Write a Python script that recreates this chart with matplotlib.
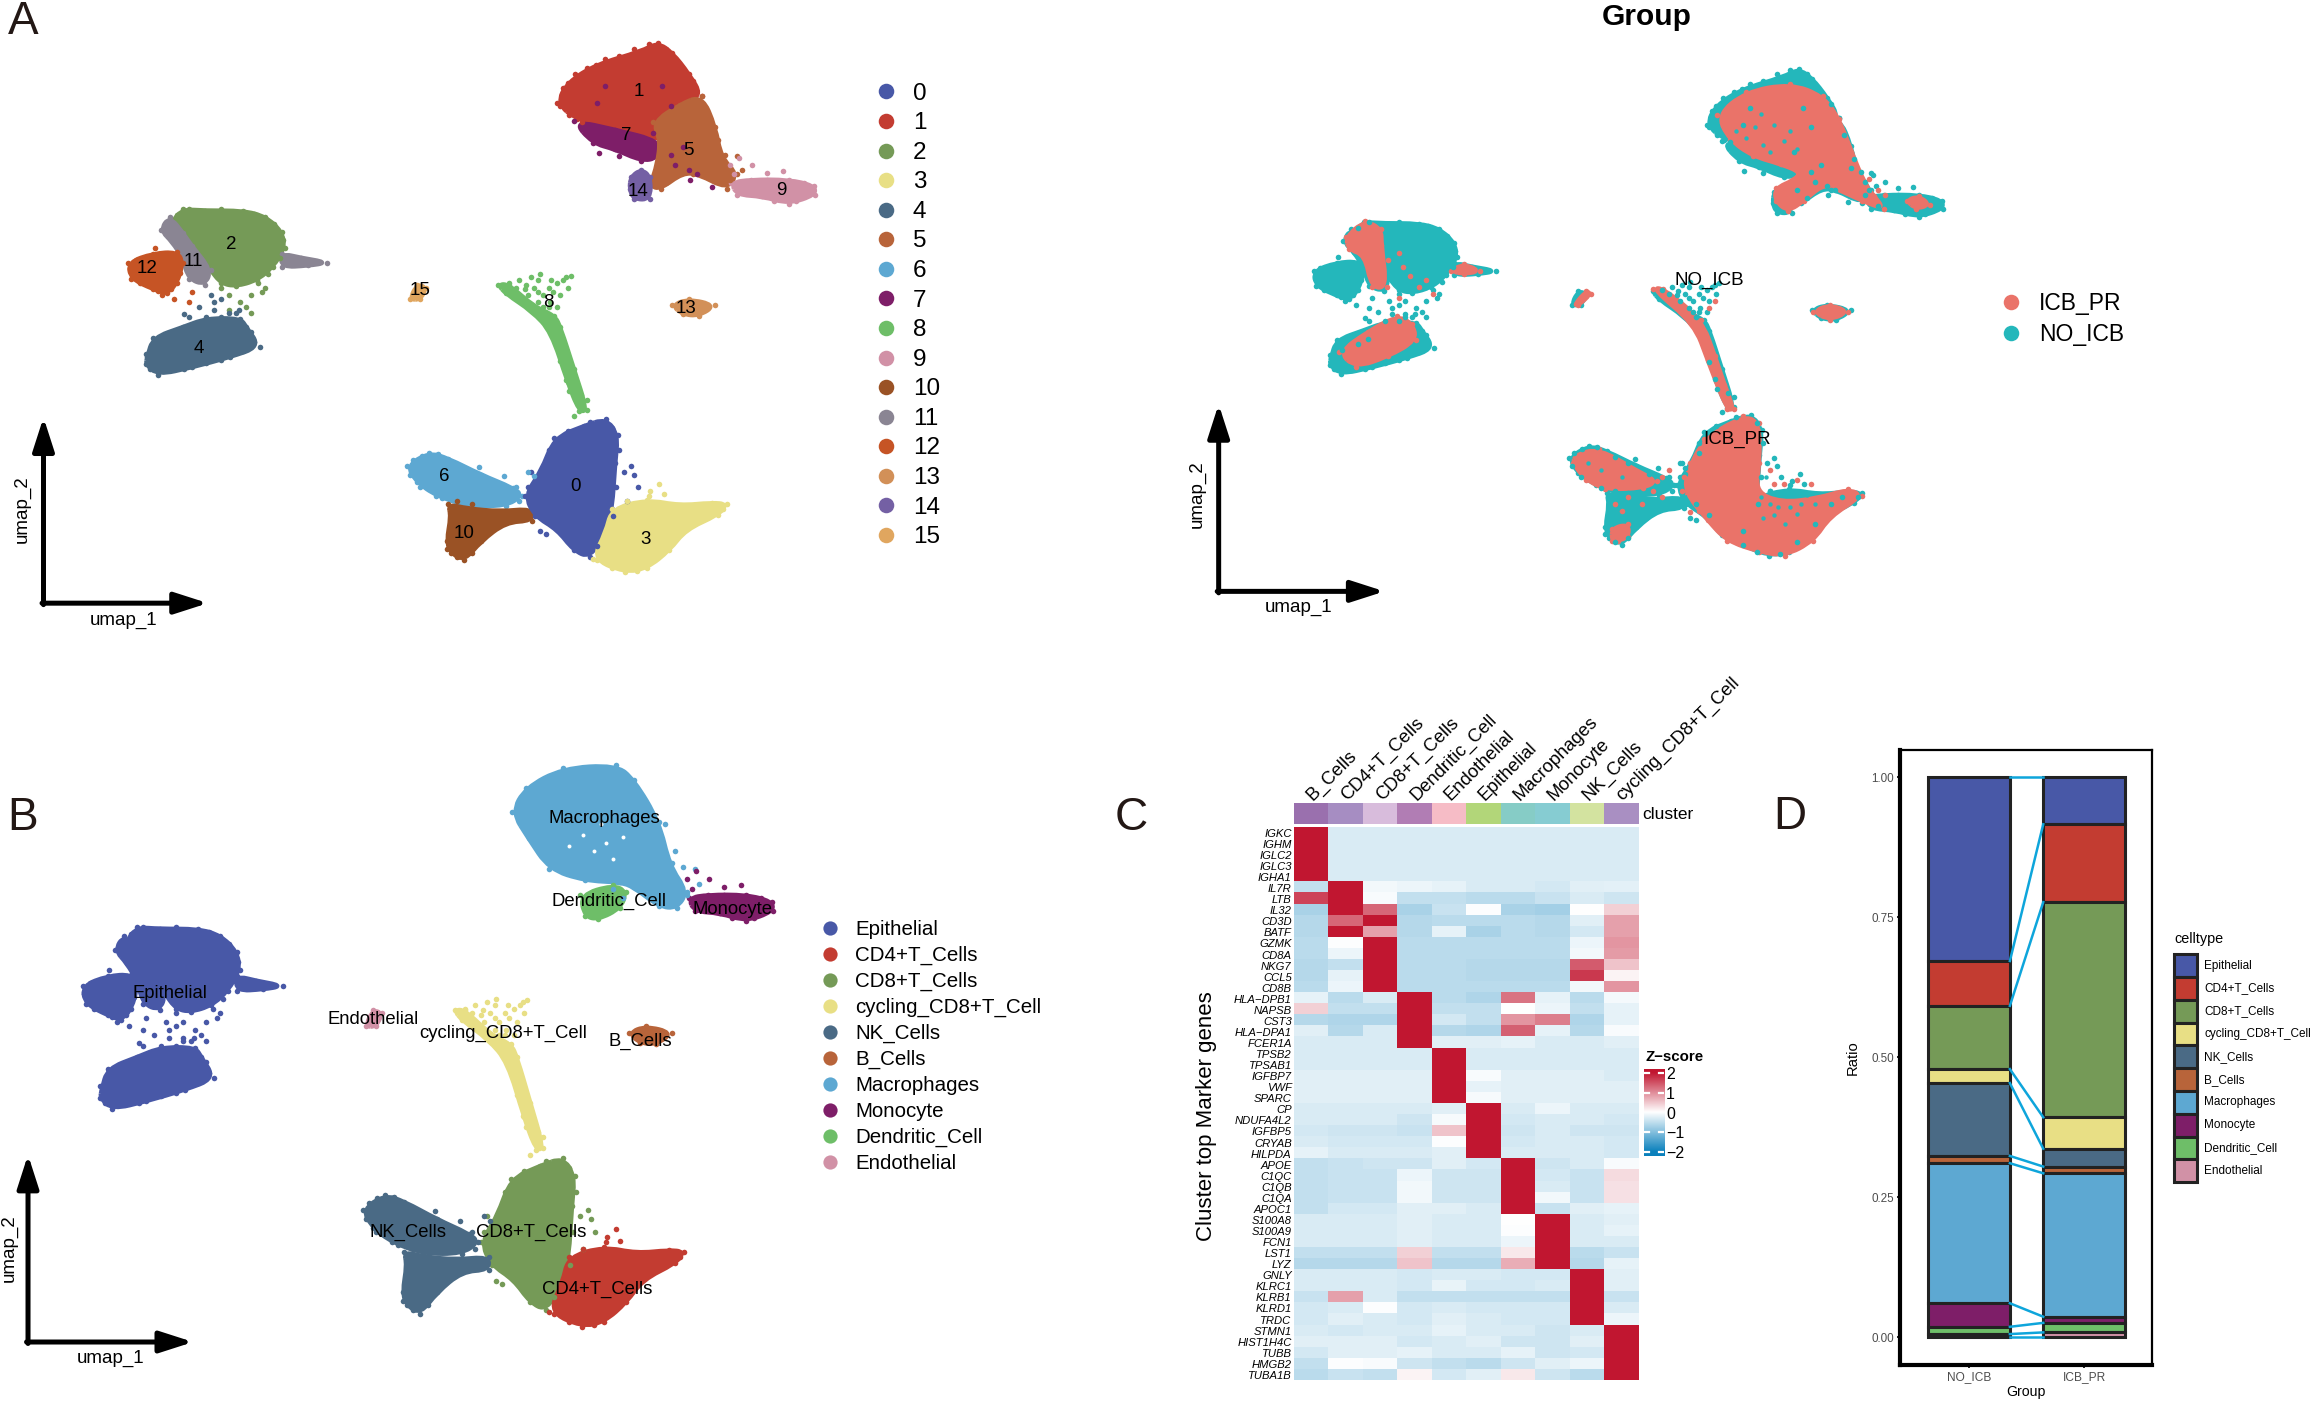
import matplotlib
matplotlib.use('Agg')
import matplotlib.pyplot as plt
from matplotlib.colors import LinearSegmentedColormap, ListedColormap
from matplotlib.patches import Rectangle, PathPatch
from matplotlib.path import Path
import numpy as np

plt.rcParams['font.family'] = ['Liberation Sans', 'DejaVu Sans']

FIG_W, FIG_H = 1568, 950  # layout units, the shrunk reference

# ---- embedding, outlines of the clusters ----
cluster_outlines = {
    0: [(411, 284), (419, 295), (417, 314), (415, 345), (411, 361), (400, 378), (389, 373), (378, 359), (363, 350), (356, 336), (367, 320), (376, 297), (396, 289)],
    1: [(378, 70), (385, 56), (404, 44), (435, 35), (446, 29), (456, 36), (467, 50), (476, 65), (461, 70), (443, 81), (448, 95), (435, 92), (417, 86), (391, 81)],
    2: [(117, 150), (124, 142), (139, 143), (165, 143), (180, 147), (191, 157), (193, 168), (185, 181), (174, 190), (160, 194), (150, 192), (143, 183), (130, 167), (117, 156)],
    3: [(415, 345), (439, 339), (461, 343), (483, 341), (493, 342), (487, 349), (465, 359), (454, 373), (439, 385), (424, 388), (402, 379), (411, 361)],
    4: [(100, 242), (104, 229), (124, 222), (140, 216), (163, 216), (167, 222), (176, 235), (156, 242), (130, 249), (107, 254), (99, 247)],
    5: [(476, 65), (485, 86), (489, 107), (500, 118), (493, 128), (474, 118), (463, 117), (448, 128), (441, 126), (446, 111), (448, 95), (443, 83), (461, 71)],
    6: [(276, 316), (291, 307), (304, 311), (326, 322), (348, 331), (354, 336), (343, 343), (317, 343), (296, 336), (283, 327)],
    7: [(389, 82), (417, 88), (448, 96), (446, 107), (435, 109), (417, 101), (402, 97)],
    8: [(338, 193), (345, 193), (362, 208), (376, 214), (380, 222), (389, 250), (398, 278), (393, 279), (385, 259), (374, 225), (361, 211), (343, 199)],
    9: [(496, 124), (509, 122), (535, 122), (552, 126), (553, 132), (535, 138), (517, 133), (500, 132)],
    10: [(304, 342), (317, 345), (339, 347), (361, 345), (361, 353), (343, 354), (326, 367), (315, 380), (306, 375), (303, 367), (306, 350)],
    11: [(109, 156), (115, 147), (124, 158), (130, 167), (143, 183), (139, 193), (128, 189), (124, 175), (117, 164)],
    12: [(87, 178), (104, 172), (120, 171), (124, 178), (120, 192), (113, 199), (104, 196), (89, 189)],
    13: [(456, 207), (467, 203), (485, 207), (474, 214), (463, 213)],
    14: [(428, 120), (435, 115), (441, 120), (441, 135), (430, 135), (427, 128)],
    15: [(278, 203), (283, 193), (289, 195), (285, 203)],
}
cluster_11_tail = [(191, 172), (204, 175), (222, 178), (209, 180), (191, 181)]

cluster_strays = {
    0: [(423, 320), (428, 316), (433, 330), (425, 340), (430, 322), (366, 360), (370, 362), (358, 330), (360, 320), (372, 312),
        (415, 290), (420, 305), (418, 330), (416, 350), (405, 370), (380, 358), (370, 350), (360, 342), (362, 328), (372, 305), (385, 292), (400, 286)],
    1: [(382, 60), (390, 50), (398, 46), (410, 40), (420, 38), (430, 33), (440, 30), (452, 33), (460, 42), (470, 55), (380, 72), (386, 78), (395, 83)],
    2: [(170, 212), (178, 198), (180, 195), (155, 210), (150, 195), (155, 200), (163, 205), (167, 208), (170, 200), (175, 192),
        (120, 146), (128, 142), (150, 142), (172, 145), (186, 152), (192, 163), (190, 175), (182, 186)],
    3: [(441, 333), (447, 328), (450, 335), (425, 340), (440, 336), (470, 350), (478, 345), (490, 345), (445, 378), (432, 387), (415, 385), (405, 380), (458, 365)],
    4: [(145, 210), (140, 215), (125, 213), (127, 228), (120, 232), (143, 200), (160, 212), (108, 236), (135, 208), (145, 205), (150, 203), (155, 212),
        (128, 215), (150, 215), (162, 210), (99, 240), (102, 250), (115, 251), (125, 250), (140, 246), (150, 244), (165, 238), (172, 232), (170, 225)],
    5: [(492, 105), (500, 106), (503, 115), (485, 102), (480, 78), (487, 95), (495, 122), (470, 118), (452, 124), (445, 118)],
    6: [(325, 317), (342, 323), (350, 330), (358, 320), (362, 323), (352, 340), (347, 337), (280, 312), (286, 309), (297, 308), (310, 315), (320, 320), (335, 328), (300, 338), (285, 330), (278, 322)],
    7: [(405, 70), (410, 58), (449, 58), (455, 72), (443, 90), (455, 105), (463, 100), (458, 112), (467, 115), (468, 122), (473, 118), (483, 127), (406, 104), (420, 106)],
    8: [(350, 195), (360, 188), (365, 190), (372, 195), (368, 200), (378, 192), (382, 190), (380, 200), (373, 205), (365, 205), (370, 212), (384, 258), (380, 245), (386, 265), (394, 268), (398, 271), (389, 282),
        (345, 192), (352, 190), (356, 196), (358, 200), (362, 195), (366, 186), (375, 198), (384, 188), (387, 187), (385, 195), (378, 208), (372, 208), (368, 208), (365, 198), (357, 193), (374, 190)],
    9: [(498, 118), (510, 112), (520, 117), (531, 116), (501, 107), (495, 112), (505, 130), (525, 136), (540, 136), (548, 130), (545, 124), (520, 122)],
    10: [(310, 340), (320, 342), (305, 358), (303, 372), (310, 378), (320, 375), (333, 360), (350, 352)],
    12: [(105, 168), (110, 200), (128, 205), (118, 203), (130, 198), (92, 176), (88, 183), (95, 192), (107, 197), (116, 196), (122, 185)],
}

cluster_colors = ['#4858A7', '#C33C31', '#759A57', '#E8DF85', '#4A6A85', '#B8643A', '#5DA8D2', '#7E1E68',
                  '#6EBE68', '#D191A6', '#9A5225', '#8A8593', '#C65425', '#D29058', '#7460A4', '#E0A65F']
cluster_ids = [str(i) for i in range(16)]
cluster_label_pos = [(390, 330), (433, 62), (157, 166), (438, 366), (135, 236), (467, 102), (301, 323), (425, 92),
                     (372, 205), (530, 129), (315, 362), (131, 177), (100, 182), (465, 209), (433, 130), (285, 197)]

# ---- panel B ----
celltypes = ['Epithelial', 'CD4+T_Cells', 'CD8+T_Cells', 'cycling_CD8+T_Cell', 'NK_Cells', 'B_Cells',
             'Macrophages', 'Monocyte', 'Dendritic_Cell', 'Endothelial']
celltype_colors = ['#4858A7', '#C33C31', '#759A57', '#E8DF85', '#4A6A85', '#B8643A', '#5DA8D2', '#7E1E68', '#6EBE68', '#D191A6']
cluster_to_celltype = {0: 2, 1: 6, 2: 0, 3: 1, 4: 0, 5: 6, 6: 4, 7: 6, 8: 3, 9: 7, 10: 4, 11: 0, 12: 0, 13: 5, 14: 8, 15: 9}
macrophage_outline = [(377, 71), (386, 56), (411, 44), (447, 42), (459, 51), (476, 77), (483, 104), (495, 120), (488, 130),
                      (476, 129), (459, 117), (450, 114), (426, 113), (402, 106), (388, 87)]
dendritic_outline = [(423, 122), (445, 116), (454, 120), (450, 130), (435, 137), (426, 135)]
macrophage_holes = [(425, 85), (440, 90), (432, 95), (445, 100), (415, 92), (437, 78), (452, 86)]
celltype_label_pos = [(115, 674), (405, 874), (360, 836), (341, 701), (277, 836), (434, 706), (410, 555), (497, 617), (413, 611), (253, 691)]

# ---- group panel ----
groups = ['ICB_PR', 'NO_ICB']
group_colors = ['#EA7369', '#24B7BB']
icb_regions = [
    [(386, 63), (407, 46), (440, 40), (464, 49), (476, 66), (485, 90), (495, 114), (502, 123), (509, 132), (493, 126), (474, 117), (464, 114), (450, 126), (438, 134), (429, 126), (429, 117), (443, 111), (448, 105), (433, 99), (412, 93), (395, 81)],
    [(526, 126), (535, 123), (543, 129), (533, 132)],
    [(111, 153), (125, 141), (137, 147), (137, 159), (141, 190), (130, 190), (125, 166), (113, 162)],
    [(189, 178), (198, 173), (210, 178), (198, 180)],
    [(106, 238), (127, 223), (149, 211), (160, 217), (163, 229), (142, 241), (118, 249)],
    [(338, 191), (346, 191), (374, 214), (384, 241), (391, 262), (398, 280), (393, 280), (379, 244), (369, 217)],
    [(405, 285), (417, 290), (417, 320), (414, 341), (433, 349), (460, 346), (483, 339), (493, 344), (469, 359), (457, 377), (436, 388), (417, 385), (393, 377), (379, 362), (362, 341), (364, 326), (376, 302)],
    [(281, 314), (298, 309), (327, 326), (341, 333), (331, 338), (303, 339), (289, 332), (279, 320)],
    [(308, 368), (320, 365), (320, 374), (312, 377), (308, 377)],
    [(457, 208), (469, 203), (483, 208), (469, 214)],
    [(281, 202), (289, 193), (292, 195), (283, 203)],
]
teal_points = [(400, 75), (407, 80), (414, 72), (420, 85), (425, 90), (435, 82), (445, 88), (440, 75), (428, 70), (418, 62),
               (418, 345), (425, 350), (431, 352), (420, 360), (428, 358), (440, 352), (445, 357), (448, 350), (436, 365),
               (458, 350), (452, 343), (422, 330), (300, 325), (315, 330), (290, 320)]
pink_points = [(150, 165), (153, 175), (158, 182), (142, 170), (165, 190), (170, 185), (150, 198), (175, 195),
               (320, 345), (310, 350), (315, 355), (312, 370), (330, 350), (345, 330), (350, 325), (361, 330), (366, 320),
               (360, 340), (345, 345), (338, 340), (372, 355), (366, 356), (505, 118), (510, 122), (498, 110),
               (384, 200), (380, 205), (425, 325), (428, 335), (435, 335), (445, 332), (455, 335)]
group_label_pos = [(1178, 298), (1159, 190)]

# ---- panel C ----
heat_columns = ['B_Cells', 'CD4+T_Cells', 'CD8+T_Cells', 'Dendritic_Cell', 'Endothelial', 'Epithelial', 'Macrophages', 'Monocyte', 'NK_Cells', 'cycling_CD8+T_Cell']
heat_annotation = ['#9A70AE', '#A68DC2', '#D8BCDC', '#B17DB4', '#F6BCC6', '#B2D679', '#86CCC6', '#86CCD2', '#D3E3A0', '#A98FC2']
heat_genes = ['IGKC', 'IGHM', 'IGLC2', 'IGLC3', 'IGHA1', 'IL7R', 'LTB', 'IL32', 'CD3D', 'BATF',
              'GZMK', 'CD8A', 'NKG7', 'CCL5', 'CD8B', 'HLA\u2212DPB1', 'NAPSB', 'CST3', 'HLA\u2212DPA1', 'FCER1A',
              'TPSB2', 'TPSAB1', 'IGFBP7', 'VWF', 'SPARC', 'CP', 'NDUFA4L2', 'IGFBP5', 'CRYAB', 'HILPDA',
              'APOE', 'C1QC', 'C1QB', 'C1QA', 'APOC1', 'S100A8', 'S100A9', 'FCN1', 'LST1', 'LYZ',
              'GNLY', 'KLRC1', 'KLRB1', 'KLRD1', 'TRDC', 'STMN1', 'HIST1H4C', 'TUBB', 'HMGB2', 'TUBA1B']
heat_values = [
    [2, -.3, -.3, -.3, -.3, -.3, -.3, -.3, -.3, -.3],
    [2, -.3, -.3, -.3, -.3, -.3, -.3, -.3, -.3, -.3],
    [2, -.3, -.3, -.3, -.3, -.3, -.3, -.3, -.3, -.3],
    [2, -.3, -.3, -.3, -.3, -.3, -.3, -.3, -.3, -.3],
    [2, -.3, -.3, -.3, -.3, -.3, -.3, -.3, -.3, -.3],
    [-.5, 2, -.1, -.15, -.2, -.3, -.3, -.35, -.25, -.22],
    [1.6, 2, -.05, -.5, -.5, -.55, -.55, -.45, -.3, -.4],
    [-.7, 2, 1.3, -.7, -.45, -.03, -.7, -.75, 0, .4],
    [-.6, 1.3, 2, -.6, -.55, -.55, -.55, -.6, -.25, .8],
    [-.6, 2, .8, -.6, -.2, -.7, -.55, -.6, -.35, .8],
    [-.55, -.03, 2, -.55, -.55, -.55, -.55, -.55, -.15, .9],
    [-.55, -.15, 2, -.55, -.55, -.55, -.55, -.55, -.1, .85],
    [-.6, -.5, 2, -.55, -.55, -.6, -.6, -.6, 1.4, .5],
    [-.6, -.2, 2, -.55, -.55, -.6, -.6, -.6, 1.7, .1],
    [-.55, -.15, 2, -.55, -.55, -.55, -.55, -.55, -.1, .9],
    [-.2, -.55, -.3, 2, -.55, -.65, 1.2, -.2, -.55, -.08],
    [.4, -.5, -.5, 2, -.5, -.5, 0, -.15, -.5, -.2],
    [-.6, -.65, -.65, 2, -.35, -.5, .9, 1.1, -.65, -.2],
    [-.25, -.6, -.3, 2, -.6, -.65, 1.35, -.2, -.6, -.05],
    [-.3, -.3, -.3, 2, -.25, -.25, -.2, -.3, -.3, -.25],
    [-.3, -.3, -.3, -.3, 2, -.3, -.3, -.3, -.3, -.3],
    [-.3, -.3, -.3, -.3, 2, -.3, -.3, -.3, -.3, -.3],
    [-.25, -.25, -.25, -.25, 2, -.05, -.25, -.25, -.25, -.3],
    [-.25, -.25, -.25, -.25, 2, -.2, -.25, -.25, -.25, -.25],
    [-.25, -.25, -.25, -.25, 2, -.07, -.25, -.25, -.25, -.25],
    [-.3, -.3, -.3, -.3, -.25, 2, -.3, -.15, -.3, -.3],
    [-.3, -.3, -.3, -.4, -.07, 2, -.35, -.3, -.3, -.35],
    [-.35, -.4, -.4, -.45, .5, 2, -.4, -.3, -.4, -.4],
    [-.3, -.35, -.35, -.35, -.03, 2, -.35, -.3, -.3, -.35],
    [-.2, -.3, -.3, -.3, -.25, 2, -.3, -.3, -.3, -.35],
    [-.5, -.45, -.4, -.4, -.25, -.35, 2, -.4, -.3, -.05],
    [-.5, -.45, -.45, -.15, -.4, -.4, 2, -.35, -.45, .3],
    [-.5, -.45, -.45, -.1, -.4, -.4, 2, -.3, -.45, .25],
    [-.5, -.45, -.45, -.1, -.4, -.4, 2, -.1, -.45, .25],
    [-.5, -.35, -.35, -.25, -.25, -.3, 2, -.45, -.25, -.2],
    [-.3, -.3, -.3, -.25, -.3, -.3, 0, 2, -.3, -.25],
    [-.3, -.3, -.3, -.25, -.3, -.3, -.02, 2, -.3, -.2],
    [-.3, -.3, -.3, -.25, -.3, -.3, -.15, 2, -.3, -.3],
    [-.5, -.5, -.5, .4, -.5, -.5, .2, 2, -.55, -.45],
    [-.6, -.6, -.6, .5, -.6, -.6, .7, 2, -.6, -.2],
    [-.3, -.3, -.3, -.35, -.3, -.3, -.35, -.35, 2, -.25],
    [-.3, -.3, -.3, -.35, -.18, -.35, -.35, -.3, 2, -.25],
    [-.45, .8, -.3, -.5, -.5, -.5, -.5, -.5, 2, -.45],
    [-.35, -.3, -.03, -.35, -.3, -.35, -.35, -.35, 2, -.3],
    [-.35, -.25, -.3, -.35, -.25, -.3, -.35, -.35, 2, -.15],
    [-.3, -.35, -.3, -.3, -.2, -.3, -.3, -.4, -.3, 2],
    [-.25, -.25, -.25, -.35, -.3, -.25, -.4, -.4, -.25, 2],
    [-.35, -.25, -.25, -.2, -.3, -.3, -.2, -.4, -.35, 2],
    [-.5, -.03, -.05, -.4, -.5, -.55, -.4, -.25, -.15, 2],
    [-.55, -.45, -.5, .1, -.35, -.25, .2, -.4, -.55, 2],
]

# ---- panel D ----
bar_groups = ['NO_ICB', 'ICB_PR']
no_icb_ratio = [.328, .080, .113, .025, .130, .013, .250, .042, .013, .006]
icb_pr_ratio = [.084, .139, .384, .056, .032, .012, .256, .011, .017, .009]


def rect_px(left, top, right, bottom):
    return [left / FIG_W, 1 - bottom / FIG_H, (right - left) / FIG_W, (bottom - top) / FIG_H]


def umap_axes(ox, oy, sx, sy):
    # embedding x -> ox + sx * (x - 87) , y likewise, in layout units
    xlim = (60, 570)
    ylim = (400, 10)
    ax = fig.add_axes(rect_px(ox + sx * (xlim[0] - 87), oy + sy * (ylim[1] - 143),
                              ox + sx * (xlim[1] - 87), oy + sy * (ylim[0] - 143)))
    ax.set_xlim(xlim)
    ax.set_ylim(ylim)
    ax.axis('off')
    ax.patch.set_alpha(0)
    return ax


def draw_blob(ax, outline, color):
    # vertices act as curve controls so the outline comes out rounded
    n = len(outline)
    mids = [((outline[i][0] + outline[(i + 1) % n][0]) / 2, (outline[i][1] + outline[(i + 1) % n][1]) / 2) for i in range(n)]
    verts = [mids[-1]]
    codes = [Path.MOVETO]
    for i in range(n):
        verts += [outline[i], mids[i]]
        codes += [Path.CURVE3, Path.CURVE3]
    ax.add_patch(PathPatch(Path(verts, codes), facecolor=color, edgecolor=color, lw=3.5, joinstyle='round'))
    ax.scatter([p[0] for p in outline], [p[1] for p in outline], s=16, color=color, linewidths=0)


def draw_points(ax, points, color, size=16):
    ax.scatter([p[0] for p in points], [p[1] for p in points], s=size, color=color, linewidths=0, zorder=3)


def umap_arrows(x, top, corner, right, lab_x, lab_y, lab2_x, lab2_y):
    for start, end in [((x, corner + 1), (x, top)), ((x - 1, corner), (right, corner))]:
        over.annotate('', xy=end, xytext=start,
                      arrowprops=dict(arrowstyle='-|>,head_length=0.84,head_width=0.27', color='black', lw=3.6,
                                      shrinkA=0, shrinkB=0, mutation_scale=24))
    over.text(lab_x, lab_y, 'umap_1', fontsize=13.5, ha='center', va='center')
    over.text(lab2_x, lab2_y, 'umap_2', fontsize=13.5, ha='center', va='center', rotation=90)


fig = plt.figure(figsize=(23.12, 14.01), dpi=100)

# overlay for letters, legends and arrows, in layout units
over = fig.add_axes([0, 0, 1, 1], zorder=10)
over.set_xlim(0, FIG_W)
over.set_ylim(FIG_H, 0)
over.axis('off')
over.patch.set_alpha(0)

# panel A
ax_a = umap_axes(87, 143, 1.0, 1.0)
for c in [2, 11, 12, 4, 1, 7, 5, 14, 9, 8, 6, 10, 0, 3, 13, 15]:
    draw_blob(ax_a, cluster_outlines[c], cluster_colors[c])
draw_blob(ax_a, cluster_11_tail, cluster_colors[11])
for c, pts in cluster_strays.items():
    draw_points(ax_a, pts, cluster_colors[c])
for name, pos in zip(cluster_ids, cluster_label_pos):
    ax_a.text(pos[0], pos[1], name, fontsize=13.5, ha='center', va='center', zorder=5)
for i, name in enumerate(cluster_ids):
    over.scatter(601, 62 + i * 20.05, s=125, color=cluster_colors[i], linewidths=0)
    over.text(619, 63.5 + i * 20.05, name, fontsize=17.5, va='center')
umap_arrows(29.5, 283, 409, 141, 84, 421, 15, 345)

# group panel
ax_g = umap_axes(890 + 0.916, 45 + 116 * 0.919, 0.916, 0.919)
for c in cluster_outlines:
    draw_blob(ax_g, cluster_outlines[c], group_colors[1])
draw_blob(ax_g, cluster_11_tail, group_colors[1])
for c, pts in cluster_strays.items():
    draw_points(ax_g, pts, group_colors[1])
for region in icb_regions:
    draw_blob(ax_g, region, group_colors[0])
draw_points(ax_g, pink_points, group_colors[0])
draw_points(ax_g, teal_points, group_colors[1], 10)
for name, pos, col, y in zip(groups, group_label_pos, group_colors, [205, 226]):
    over.text(pos[0], pos[1], name, fontsize=13.5, ha='center', va='center')
    over.scatter(1364, y, s=125, color=col, linewidths=0)
    over.text(1383, y + 1, name, fontsize=16.5, va='center')
over.text(1117, 11.5, 'Group', fontsize=21.5, fontweight='bold', ha='center', va='center')
umap_arrows(826.5, 274, 401, 939, 881, 412, 812, 335)

# panel B
ax_b = umap_axes(56, 630, 1.005, 1.10)
for c in cluster_outlines:
    if cluster_to_celltype[c] not in (6, 8):
        draw_blob(ax_b, cluster_outlines[c], celltype_colors[cluster_to_celltype[c]])
draw_blob(ax_b, cluster_11_tail, celltype_colors[0])
draw_blob(ax_b, macrophage_outline, celltype_colors[6])
draw_blob(ax_b, dendritic_outline, celltype_colors[8])
for c, pts in cluster_strays.items():
    if c != 1:
        draw_points(ax_b, pts, celltype_colors[cluster_to_celltype[c]])
draw_points(ax_b, macrophage_holes, 'white', 8)
for i, name in enumerate(celltypes):
    over.text(celltype_label_pos[i][0], celltype_label_pos[i][1], name, fontsize=13.3, ha='center', va='center')
    y = 629 + i * 17.67
    over.scatter(563, y, s=105, color=celltype_colors[i], linewidths=0)
    over.text(580, y + 1, name, fontsize=14.8, va='center')
umap_arrows(19, 783, 910, 131, 75, 921, 6, 846)

# panel letters
for letter, x, y in [('A', 16, 15), ('B', 15, 555), ('C', 767, 555), ('D', 1214, 554)]:
    over.text(x, y, letter, fontsize=33, ha='center', va='center', color='#231815')

# panel C
heat_cmap = LinearSegmentedColormap.from_list('zscore', ['#0A80BC', '#FFFFFF', '#C11630'])
ax_ann = fig.add_axes(rect_px(877.4, 544.8, 1110.8, 558.8))
ax_ann.imshow([list(range(len(heat_columns)))], aspect='auto', cmap=ListedColormap(heat_annotation), interpolation='nearest')
ax_ann.axis('off')
for j, name in enumerate(heat_columns):
    ax_ann.text(j - 0.03, -0.78, name, rotation=45, rotation_mode='anchor', ha='left', va='center', fontsize=13.2, clip_on=False)
over.text(1113.5, 552, 'cluster', fontsize=12.5, va='center')

ax_heat = fig.add_axes(rect_px(877.4, 561, 1110.8, 936))
ax_heat.imshow(np.array(heat_values), aspect='auto', cmap=heat_cmap, vmin=-2, vmax=2, interpolation='nearest')
ax_heat.set_xticks([])
ax_heat.set_yticks(range(len(heat_genes)))
ax_heat.set_yticklabels(heat_genes, fontsize=8.1, style='italic')
ax_heat.tick_params(axis='y', length=0, pad=1.5)
for side in ax_heat.spines.values():
    side.set_visible(False)
over.text(818, 757, 'Cluster top Marker genes', fontsize=16, rotation=90, ha='center', va='center')

# colorbar of the heatmap
ax_cb = fig.add_axes(rect_px(1115, 725, 1128.6, 784))
ax_cb.imshow(np.linspace(2.2, -2.2, 200).reshape(-1, 1), aspect='auto', cmap=heat_cmap, vmin=-2, vmax=2, extent=[0, 1, -2.2, 2.2])
ax_cb.set_xticks([])
ax_cb.yaxis.tick_right()
ax_cb.set_yticks([-2, -1, 0, 1, 2])
ax_cb.set_yticklabels(['\u22122', '\u22121', '0', '1', '2'], fontsize=11.5)
ax_cb.tick_params(axis='y', length=0, pad=1.5)
for side in ax_cb.spines.values():
    side.set_visible(False)
for v in [-2, -1, 1, 2]:
    ax_cb.plot([0, 0.25], [v, v], color='white', lw=1.6)
    ax_cb.plot([0.75, 1], [v, v], color='white', lw=1.6)
ax_cb.set_xlim(0, 1)
ax_cb.set_ylim(-2.2, 2.2)
over.text(1116, 717, 'Z\u2212score', fontsize=10.8, fontweight='bold', va='center')

# panel D
ax_d = fig.add_axes(rect_px(1288.6, 508.6, 1459.6, 925.7))
bar_width = 0.71
tops_no = 1 - np.cumsum([0] + no_icb_ratio[:-1])
tops_icb = 1 - np.cumsum([0] + icb_pr_ratio[:-1])
for i, name in enumerate(celltypes):
    ax_d.bar(0, no_icb_ratio[i], bottom=tops_no[i] - no_icb_ratio[i], width=bar_width, color=celltype_colors[i], edgecolor='#222222', lw=2.2)
    ax_d.bar(1, icb_pr_ratio[i], bottom=tops_icb[i] - icb_pr_ratio[i], width=bar_width, color=celltype_colors[i], edgecolor='#222222', lw=2.2)
for a, b in zip(list(tops_no) + [0], list(tops_icb) + [0]):
    ax_d.plot([bar_width / 2, 1 - bar_width / 2], [a, b], color='#0EA5DB', lw=1.8)
ax_d.set_xlim(-0.6, 1.592)
ax_d.set_ylim(-0.0495, 1.0485)
ax_d.set_yticks([0, .25, .5, .75, 1])
ax_d.set_yticklabels(['0.00', '0.25', '0.50', '0.75', '1.00'], fontsize=8.4, color='#4D4D4D')
ax_d.set_xticks([0, 1])
ax_d.set_xticklabels(bar_groups, fontsize=8.6, color='#4D4D4D')
ax_d.tick_params(length=2.5, width=1.2, pad=2)
ax_d.set_xlabel('Group', fontsize=10.2, labelpad=1)
ax_d.set_ylabel('Ratio', fontsize=10.6, labelpad=8)
for name, side in ax_d.spines.items():
    side.set_linewidth(3.0 if name in ('left', 'bottom') else 1.6)
    side.set_color('black')

over.text(1474.5, 637, 'celltype', fontsize=10.4, va='center')
for i, name in enumerate(celltypes):
    y = 654.8 + i * 15.45
    over.add_patch(Rectangle((1474.7, y - 7.7), 15.3, 15.45, facecolor=celltype_colors[i], edgecolor='#222222', lw=2.2))
    over.text(1495, y, name, fontsize=8.5, va='center')

fig.savefig('out.png', dpi=100)
